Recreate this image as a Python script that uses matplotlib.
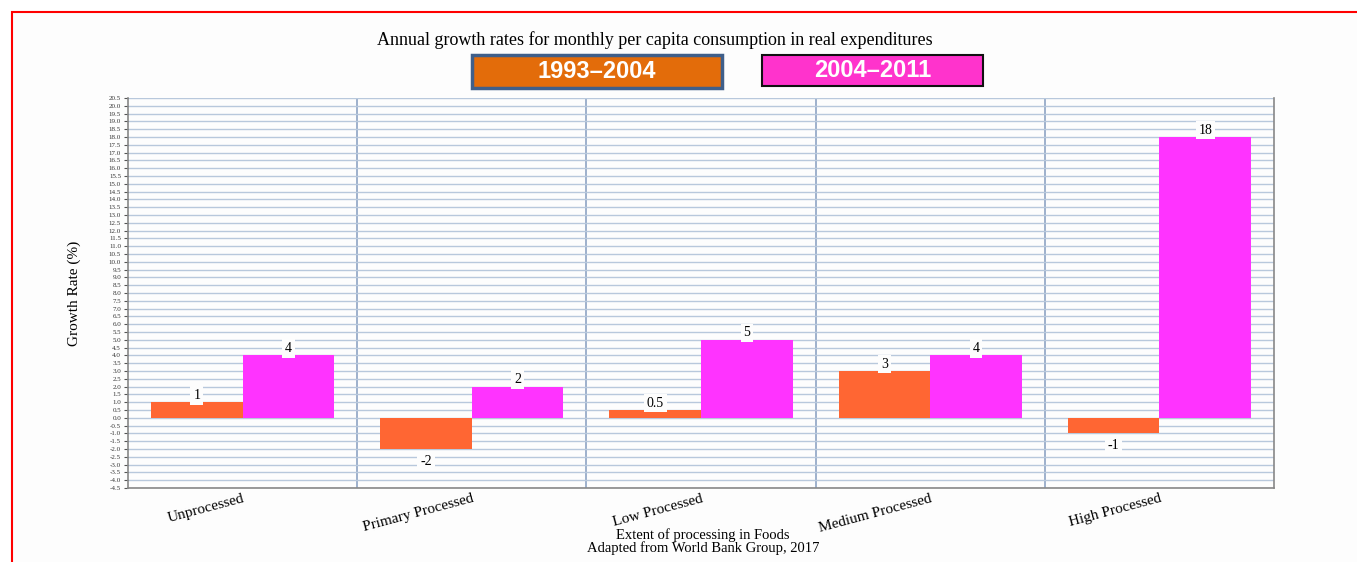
import numpy as np
import matplotlib.pyplot as plt
from matplotlib.patches import Rectangle

categories = ["Unprocessed", "Primary Processed", "Low Processed",
              "Medium Processed", "High Processed"]
growth_1993_2004 = [1, -2, 0.5, 3, -1]
growth_2004_2011 = [4, 2, 5, 4, 18]
value_labels_1993 = ["1", "-2", "0.5", "3", "-1"]
value_labels_2004 = ["4", "2", "5", "4", "18"]
series_names = ["1993\u20132004", "2004\u20132011"]
ytick_values = [v / 2 for v in range(-9, 42)]
ytick_labels = ["%.1f" % v for v in ytick_values]

serif = "Liberation Serif"
sans = "Liberation Sans"
c_orange = "#ff6633"
c_magenta = "#ff33ff"

W, H = 1357, 562
fig = plt.figure(figsize=(W / 100, H / 100), dpi=100)
fig.patch.set_facecolor("white")

# red frame around the whole chart
frame = Rectangle((12 / W, -0.05), 1.05, 1 - 12 / H + 0.05, transform=fig.transFigure,
                  facecolor="#fdfdfd", edgecolor="#ff0000", linewidth=1.5, zorder=-10)
fig.patches.append(frame)

ax = fig.add_axes([128 / W, 1 - 488 / H, 1146 / W, 390 / H])
ax.set_facecolor("#fdfdfd")

x = np.arange(len(categories))
w = 0.4
b1 = ax.bar(x - w / 2, growth_1993_2004, w, color=c_orange, zorder=3)
b2 = ax.bar(x + w / 2, growth_2004_2011, w, color=c_magenta, zorder=3)

for bars, labels in ((b1, value_labels_1993), (b2, value_labels_2004)):
    for rect, lab in zip(bars, labels):
        v = rect.get_height()
        cx = rect.get_x() + rect.get_width() / 2
        off = 5 if v >= 0 else -9
        ax.annotate(lab, (cx, v), xytext=(0, off), textcoords="offset points",
                    ha="center", va="center", fontsize=10, family=serif,
                    bbox=dict(boxstyle="square,pad=0.2", fc="#fdfdfd", ec="none"),
                    zorder=4)

ax.set_xlim(-0.5, len(categories) - 0.5)
ax.set_ylim(-4.5, 20.5)
ax.set_yticks(ytick_values)
ax.set_yticklabels(ytick_labels, fontsize=5, family=serif, color="#333333")
ax.yaxis.grid(True, color="#b8c8dc", linewidth=1.0, zorder=1)
for sep in x[:-1] + 0.5:
    ax.axvline(sep, color="#8ea4c4", linewidth=1.2, zorder=1)

ax.set_xticks(x)
ax.set_xticklabels(categories, rotation=15, ha="right", fontsize=11,
                   family=serif, rotation_mode="anchor")
ax.tick_params(axis="x", length=0, pad=3)
ax.tick_params(axis="y", length=3, width=0.8, color="#555555", pad=2)

ax.spines["top"].set_visible(False)
for side in ("left", "bottom", "right"):
    ax.spines[side].set_color("#888888")
    ax.spines[side].set_linewidth(1.2)

ax.set_ylabel("Growth Rate (%)", fontsize=11, family=serif, labelpad=20)
ax.set_xlabel("Extent of processing in Foods\nAdapted from World Bank Group, 2017",
              fontsize=10.5, family=serif, linespacing=0.95)
ax.xaxis.set_label_coords(575 / 1146, -40 / 390)

fig.text(655 / W, 1 - 40 / H,
         "Annual growth rates for monthly per capita consumption in real expenditures",
         ha="center", va="center", fontsize=13, family=serif)

# legend boxes
legend_boxes = [
    ((472, 55, 250, 33), "#e36c0a", "#3f5f8a", 2.5),
    ((762, 55, 221, 31), "#ff33cc", "#111111", 1.5),
]
for (bx, by, bw, bh), fc, ec, lw in legend_boxes:
    fig.patches.append(Rectangle((bx / W, 1 - (by + bh) / H), bw / W, bh / H,
                                 transform=fig.transFigure, facecolor=fc,
                                 edgecolor=ec, linewidth=lw, zorder=2))
for ((bx, by, bw, bh), _, _, _), name in zip(legend_boxes, series_names):
    fig.text((bx + bw / 2) / W, 1 - (by + bh / 2) / H, name, ha="center", va="center",
             fontsize=17, fontweight="bold", color="white", family=sans)

fig.savefig("out.png", dpi=100)
